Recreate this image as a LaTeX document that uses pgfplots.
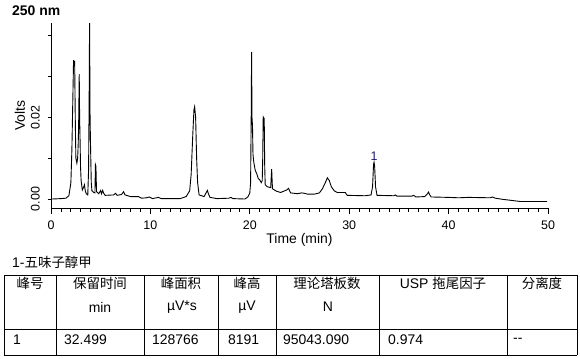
\documentclass[border=0pt]{standalone}
\usepackage{pgfplots}
\pgfplotsset{compat=1.18}
\usepackage{fontspec}
\setmainfont{Liberation Sans}
\newfontfamily\cjk{Noto Sans CJK SC}
\definecolor{peaklbl}{RGB}{30,30,110}
\pgfplotstableread{
t v
0.1 0.0000
1.0 0.0001
1.5 0.0002
1.8 0.0008
2.0 0.0040
2.1 0.0120
2.2 0.0250
2.27 0.0340
2.33 0.0325
2.38 0.0338
2.44 0.0200
2.50 0.0100
2.60 0.0088
2.68 0.0100
2.74 0.0137
2.78 0.0180
2.84 0.0306
2.88 0.0200
2.92 0.0150
2.97 0.0080
3.03 0.0045
3.15 0.0022
3.30 0.0030
3.36 0.0035
3.45 0.0020
3.55 0.0013
3.70 0.0010
3.78 0.0070
3.84 0.0250
3.88 0.0435
3.93 0.0200
3.98 0.0128
4.05 0.0040
4.12 0.0020
4.30 0.0016
4.42 0.0015
4.47 0.0084
4.52 0.0080
4.58 0.0018
4.8 0.0013
5.0 0.0021
5.08 0.0013
5.2 0.0021
5.3 0.0014
5.45 0.0009
6.3 0.0010
6.5 0.0014
6.65 0.0009
7.1 0.0011
7.3 0.0018
7.45 0.0010
8.0 0.0006
8.8 0.0006
9.1 0.0002
9.6 0.0003
9.9 0.0005
10.2 0.0001
10.8 0.0004
11.1 0.0001
13.0 0.0001
13.6 0.0006
13.95 0.0020
14.1 0.0060
14.25 0.0150
14.38 0.0218
14.45 0.0226
14.55 0.0200
14.65 0.0100
14.75 0.0040
14.9 0.0010
15.4 0.0006
15.6 0.0015
15.73 0.0021
15.85 0.0012
16.0 0.0004
16.7 0.0001
17.9 0.0002
18.1 0.0004
18.3 0.0001
19.5 0.0000
19.8 0.0005
20.0 0.0015
20.08 0.0040
20.14 0.0200
20.18 0.0360
20.22 0.0200
20.27 0.0180
20.32 0.0110
20.4 0.0090
20.55 0.0070
20.7 0.0062
20.85 0.0050
21.0 0.0047
21.15 0.0040
21.25 0.0045
21.3 0.0100
21.35 0.0201
21.45 0.0197
21.5 0.0080
21.55 0.0035
21.75 0.0030
22.1 0.0028
22.2 0.0073
22.28 0.0025
22.7 0.0019
23.1 0.0016
23.7 0.0022
23.9 0.0026
24.1 0.0015
24.8 0.0013
25.2 0.0015
25.5 0.0014
25.8 0.0012
26.5 0.0012
27.0 0.0015
27.3 0.0025
27.6 0.0040
27.8 0.0052
28.0 0.0045
28.2 0.0030
28.5 0.0020
28.8 0.0016
29.6 0.0016
29.8 0.0009
31.6 0.0008
32.2 0.0010
32.35 0.0030
32.45 0.0085
32.5 0.0090
32.56 0.0080
32.65 0.0030
32.8 0.0009
34.5 0.0008
34.65 0.0010
34.8 0.0007
36.3 0.0007
36.5 0.0009
36.7 0.0005
37.6 0.0006
37.85 0.0012
37.98 0.0017
38.1 0.0010
38.25 0.0005
40.0 0.0004
41.0 0.0003
42.0 0.0004
44.2 0.0003
44.4 0.0005
44.7 0.0002
45.5 -0.0001
46.2 -0.0003
47.2 -0.0006
49.9 -0.0006
}\chrom
\begin{document}
\begin{tikzpicture}
\useasboundingbox (0,0) rectangle (580bp,-359bp);
\node[anchor=west, font=\fontsize{14}{16}\selectfont\bfseries, inner sep=0] at (12bp,-11bp) {250 nm};
\begin{axis}[
 at={(51bp,-208bp)}, anchor=south west,
 scale only axis, width=497bp, height=185bp,
 xmin=0, xmax=50, ymin=-0.0022, ymax=0.0431,
 scaled y ticks=false, scaled x ticks=false,
 axis lines=left, axis line style={-, line width=0.8bp},
 tick align=outside,
 xtick={0,10,20,30,40,50}, xticklabels={0,10,20,30,40,50},
 minor x tick num=9,
 ytick={0,0.02}, yticklabels={0.00,0.02},
 minor ytick={0,0.01,0.02,0.03,0.04},
 every major y tick/.append style={draw=none},
 major tick length=6bp, minor tick length=3.5bp,
 every tick/.append style={line width=0.8bp, black},
 xticklabel style={font=\fontsize{12.5}{14}\selectfont, anchor=north, inner sep=0pt, yshift=-7bp},
 yticklabel style={font=\fontsize{12.5}{14}\selectfont, rotate=90, anchor=south, inner sep=0pt, yshift=5bp},
 xlabel={Time (min)}, ylabel={Volts},
 xlabel style={font=\fontsize{14}{16}\selectfont, at={(axis description cs:0.5,0)}, anchor=center, yshift=-32bp},
 ylabel style={font=\fontsize{14}{16}\selectfont, at={(axis description cs:0,0.5)}, anchor=center, yshift=31bp},
]
\addplot[black, line width=0.9bp, no marks] table[x=t, y=v] {\chrom};
\node[font=\fontsize{12.5}{14}\selectfont, text=peaklbl, anchor=south, inner sep=1.5bp] at (axis cs:32.5,0.0091) {1};
\end{axis}
% table
\node[anchor=west, inner sep=0, font=\fontsize{14}{16}\selectfont] at (12bp,-262bp) {1-{\cjk\fontsize{13.5}{16}\selectfont 五味子醇甲}};
\begin{scope}[line width=1bp]
\draw (4bp,-275bp) -- (577bp,-275bp);
\draw (4bp,-329bp) -- (577bp,-329bp);
\draw (4bp,-355bp) -- (577bp,-355bp);
\foreach \xx in {4,56,144,218,276,379,507,577}{\draw (\xx bp,-275bp) -- (\xx bp,-355bp);}
\end{scope}
\begin{scope}[every node/.style={font=\fontsize{14}{16}\selectfont, inner sep=0}]
\node at (30bp,-283bp) {\cjk\fontsize{13.5}{16}\selectfont 峰号};
\node at (100bp,-283bp) {\cjk\fontsize{13.5}{16}\selectfont 保留时间};
\node at (181bp,-283bp) {\cjk\fontsize{13.5}{16}\selectfont 峰面积};
\node at (247bp,-283bp) {\cjk\fontsize{13.5}{16}\selectfont 峰高};
\node at (327bp,-283bp) {\cjk\fontsize{13.5}{16}\selectfont 理论塔板数};
\node at (443bp,-283bp) {USP {\cjk\fontsize{13.5}{16}\selectfont 拖尾因子}};
\node at (542bp,-283bp) {\cjk\fontsize{13.5}{16}\selectfont 分离度};
\node at (100bp,-307bp) {min};
\node at (182bp,-307bp) {µV*s};
\node at (247bp,-307bp) {µV};
\node at (328bp,-307bp) {N};
\node[anchor=west] at (13bp,-340bp) {1};
\node[anchor=west] at (64bp,-340bp) {32.499};
\node[anchor=west] at (152bp,-340bp) {128766};
\node[anchor=west] at (228bp,-340bp) {8191};
\node[anchor=west] at (283bp,-340bp) {95043.090};
\node[anchor=west] at (388bp,-340bp) {0.974};
\node[anchor=west] at (513bp,-340bp) {-{}-};
\end{scope}
\end{tikzpicture}
\end{document}
